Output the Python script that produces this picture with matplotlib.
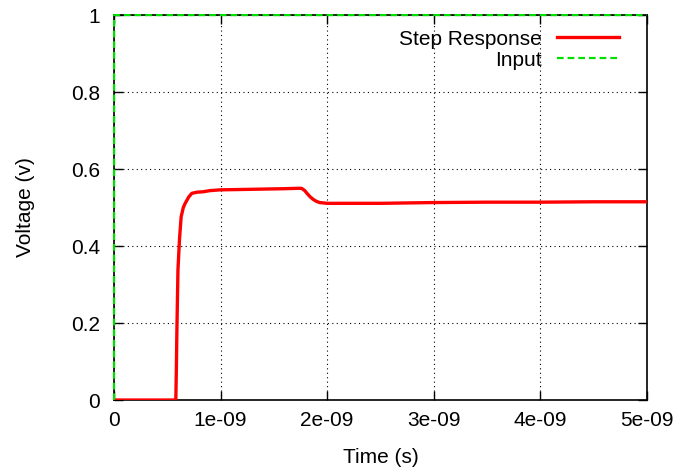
import matplotlib
matplotlib.use('Agg')
from matplotlib import pyplot as plt
from matplotlib.ticker import FuncFormatter

# Step response (time in ns, voltage in V)
step_t = [0.0, 0.58, 0.585, 0.59, 0.60, 0.615, 0.63, 0.65, 0.666, 0.70, 0.73, 0.78,
          0.835, 0.90, 0.995, 1.2, 1.4, 1.6, 1.72, 1.76, 1.79, 1.81, 1.84, 1.87, 1.90,
          1.93, 2.0, 2.21, 2.5, 3.0, 3.5, 4.0, 4.5, 5.0]
step_v = [0.0, 0.0, 0.08, 0.18, 0.338, 0.42, 0.476, 0.50, 0.51, 0.527, 0.537, 0.540,
          0.541, 0.544, 0.546, 0.547, 0.548, 0.549, 0.550, 0.550, 0.544, 0.537, 0.528, 0.521, 0.516,
          0.513, 0.511, 0.511, 0.511, 0.513, 0.514, 0.514, 0.515, 0.515]
# Input step
input_t = [0.0, 0.001, 5.0]
input_v = [0.0, 1.0, 1.0]

x_ticks = [0, 1e-9, 2e-9, 3e-9, 4e-9, 5e-9]
y_ticks = [0, 0.2, 0.4, 0.6, 0.8, 1.0]


def main():
    plt.rcParams['font.family'] = ['Liberation Sans', 'DejaVu Sans']
    fig = plt.figure(figsize=(6.81, 4.72), dpi=100)
    ax = fig.add_axes([0.1674, 0.1525, 0.7826, 0.8155])

    ax.plot([t * 1e-9 for t in step_t], step_v, color='#ff0000', lw=2.4,
            label='Step Response', zorder=3)
    ax.plot([t * 1e-9 for t in input_t], input_v, color='#00e000', lw=1.6,
            ls=(0, (3, 1.8)), label='Input', zorder=4, clip_on=False)

    ax.set_xlim(0, 5e-9)
    ax.set_ylim(0, 1)
    ax.set_xticks(x_ticks)
    ax.set_yticks(y_ticks)
    fmt = FuncFormatter(lambda v, p: '%g' % round(v, 12) if abs(v) > 1e-15 else '0')
    ax.xaxis.set_major_formatter(fmt)
    ax.yaxis.set_major_formatter(fmt)
    ax.tick_params(direction='in', length=6.5, width=1, top=True, right=True,
                   labelsize=15, colors='black')
    ax.tick_params(axis='x', pad=8)
    ax.tick_params(axis='y', pad=10)
    ax.grid(True, color='black', ls=(0, (1, 3)), lw=0.8)
    for s in ax.spines.values():
        s.set_linewidth(1.2)

    ax.set_xlabel('Time (s)', fontsize=15, labelpad=13)
    ax.set_ylabel('Voltage (v)', fontsize=15, labelpad=26)

    leg = ax.legend(loc='upper right', bbox_to_anchor=(0.975, 1.0), frameon=False,
                    markerfirst=False, fontsize=15, handlelength=3.0,
                    handletextpad=0.7, labelspacing=0.1, borderaxespad=0.3)
    for t in leg.get_texts():
        t.set_ha('right')

    plt.savefig('out.png', dpi=100)


if __name__ == '__main__':
    main()
